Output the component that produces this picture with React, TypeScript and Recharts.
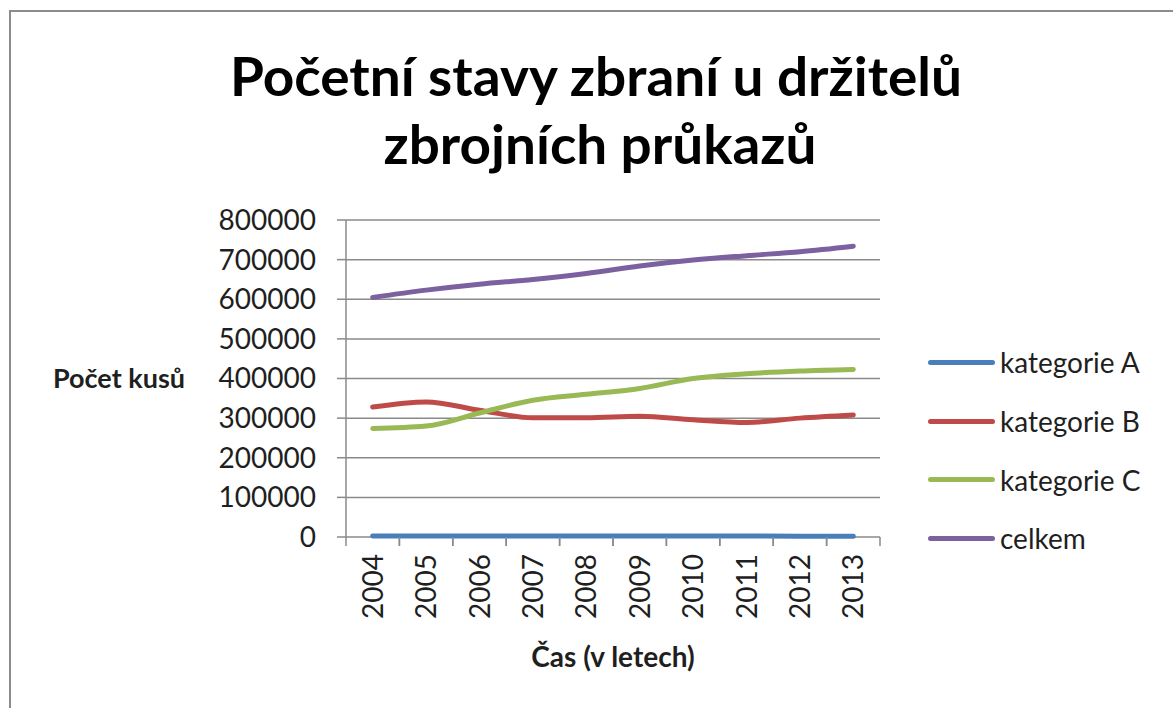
import { LineChart, Line, XAxis, YAxis, CartesianGrid, Legend } from "recharts";

const years = ["2004", "2005", "2006", "2007", "2008", "2009", "2010", "2011", "2012", "2013"];
const kategorieA = [2600, 2500, 2500, 2400, 2400, 2300, 2300, 2300, 2200, 2200];
const kategorieB = [328000, 341000, 320000, 301000, 301000, 305000, 296000, 289000, 300000, 308000];
const kategorieC = [274000, 280000, 313000, 345000, 360000, 375000, 400000, 412000, 419000, 423000];
const celkem = [604600, 623000, 638000, 650000, 665000, 684000, 699000, 710000, 720000, 734000];
const yTicks = [0, 100000, 200000, 300000, 400000, 500000, 600000, 700000, 800000];
const seriesNames = ["kategorie A", "kategorie B", "kategorie C", "celkem"];

const data = years.map((year, i) => ({
  year,
  a: kategorieA[i],
  b: kategorieB[i],
  c: kategorieC[i],
  total: celkem[i],
}));

const FONT = "Lato, 'Open Sans', sans-serif";
const TEXT = "#1f1f1f";
const GRID = "#8a8a8a";

// plot area geometry
const PLOT_LEFT = 346;
const PLOT_RIGHT = 880;
const BAND = (PLOT_RIGHT - PLOT_LEFT) / years.length;

function YearTick(props: any) {
  const { x, y, payload } = props;
  return (
    <g>
      <line x1={x - BAND / 2} y1={y} x2={x - BAND / 2} y2={y + 9} stroke={GRID} strokeWidth={1.5} />
      <line x1={x + BAND / 2} y1={y} x2={x + BAND / 2} y2={y + 9} stroke={GRID} strokeWidth={1.5} />
      <text
        x={x}
        y={y + 17}
        dy="0.36em"
        transform={`rotate(-90, ${x}, ${y + 17})`}
        textAnchor="end"
        fontFamily={FONT}
        fontSize={28}
        fill={TEXT}
      >
        {payload.value}
      </text>
    </g>
  );
}

function LegendBox(props: any) {
  const items = [...(props.payload || [])].sort(
    (p: any, q: any) => seriesNames.indexOf(p.value) - seriesNames.indexOf(q.value)
  );
  return (
    <div style={{ fontFamily: FONT, width: 245 }}>
      {items.map((entry: any) => (
        <div key={entry.value} style={{ display: "flex", alignItems: "center", height: 58.7, whiteSpace: "nowrap" }}>
          <div style={{ width: 67, height: 5, borderRadius: 3, background: entry.color, flexShrink: 0 }} />
          <span style={{ marginLeft: 5, fontSize: 28, color: TEXT, lineHeight: "30px" }}>{entry.value}</span>
        </div>
      ))}
    </div>
  );
}

export default function App() {
  return (
    <div style={{ position: "absolute", left: 0, top: 0, width: 1173, height: 708, overflow: "hidden", background: "#fff" }}>
      <div
        style={{
          position: "absolute",
          left: 9,
          top: 10,
          width: 1200,
          height: 740,
          border: "2px solid #8c8c8c",
          boxSizing: "border-box",
        }}
      />
      <svg width={1173} height={200} style={{ position: "absolute", left: 0, top: 0 }}>
        <text x={596} y={96} textAnchor="middle" fontFamily={FONT} fontWeight={700} fontSize={54} fill="#000" textLength={732} lengthAdjust="spacingAndGlyphs">
          Početní stavy zbraní u držitelů
        </text>
        <text x={600} y={164} textAnchor="middle" fontFamily={FONT} fontWeight={700} fontSize={54} fill="#000" textLength={433} lengthAdjust="spacingAndGlyphs">
          zbrojních průkazů
        </text>
      </svg>
      <div style={{ position: "absolute", left: 0, top: 0 }}>
        <LineChart width={1173} height={708} data={data} margin={{ top: 220, right: 1173 - PLOT_RIGHT, bottom: 0, left: 0 }}>
          <CartesianGrid vertical={false} stroke={GRID} strokeWidth={1.5} />
          <XAxis
            dataKey="year"
            height={171}
            axisLine={false}
            tickLine={false}
            tickSize={0}
            tickMargin={0}
            tick={<YearTick />}
            interval={0}
            padding={{ left: BAND / 2, right: BAND / 2 }}
            label={{
              value: "Čas (v letech)",
              position: "insideBottom",
              offset: 41,
              fontFamily: FONT,
              fontWeight: 700,
              fontSize: 28,
              fill: TEXT,
            }}
          />
          <YAxis
            width={PLOT_LEFT}
            domain={[0, 800000]}
            ticks={yTicks}
            interval={0}
            axisLine={{ stroke: GRID, strokeWidth: 1.5 }}
            tickLine={{ stroke: GRID, strokeWidth: 1.5 }}
            tickSize={9}
            tickMargin={21}
            tick={{ fontFamily: FONT, fontSize: 28, fill: TEXT }}
            label={{
              value: "Počet kusů",
              position: "insideLeft",
              offset: 53,
              fontFamily: FONT,
              fontWeight: 700,
              fontSize: 27,
              fill: TEXT,
            }}
          />
          <Legend
            layout="vertical"
            align="right"
            verticalAlign="top"
            content={<LegendBox />}
            wrapperStyle={{ position: "absolute", left: 928, top: 333, width: 0, height: 0, overflow: "visible" }}
          />
          <Line name="kategorie A" dataKey="a" type="monotone" stroke="#4a7ebb" strokeWidth={5} strokeLinecap="round" dot={false} isAnimationActive={false} />
          <Line name="kategorie B" dataKey="b" type="monotone" stroke="#be4b48" strokeWidth={5} strokeLinecap="round" dot={false} isAnimationActive={false} />
          <Line name="kategorie C" dataKey="c" type="monotone" stroke="#98b954" strokeWidth={5} strokeLinecap="round" dot={false} isAnimationActive={false} />
          <Line name="celkem" dataKey="total" type="monotone" stroke="#7d60a0" strokeWidth={5} strokeLinecap="round" dot={false} isAnimationActive={false} />
        </LineChart>
      </div>
    </div>
  );
}
